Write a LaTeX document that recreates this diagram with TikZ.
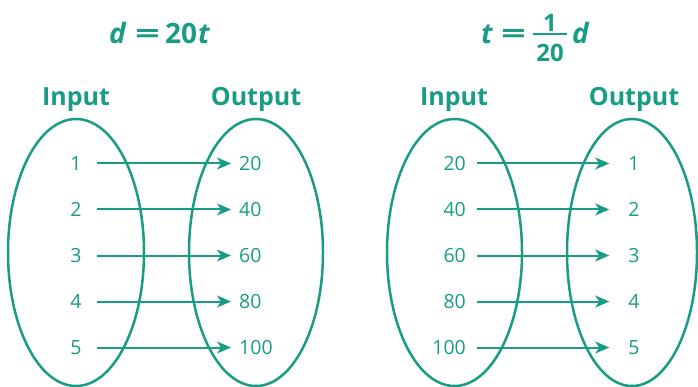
\documentclass[tikz,border=0pt]{standalone}
\usepackage{fontspec}
\setmainfont{Open Sans}
\usetikzlibrary{arrows.meta}
\definecolor{teal}{RGB}{24,157,132}
\newcommand{\wideeq}{\scalebox{1.55}[1]{=}}
\tikzset{
  numtxt/.style={text=teal,inner sep=0pt,font=\fontsize{19.5}{19.5}\selectfont},
  headtxt/.style={text=teal,inner sep=0pt,anchor=base,font=\fontsize{25}{25}\selectfont\bfseries},
  eqtxt/.style={text=teal,inner sep=0pt,anchor=base west,font=\fontsize{28}{28}\selectfont\bfseries},
  fractxt/.style={text=teal,inner sep=0pt,font=\fontsize{24}{24}\selectfont\bfseries},
  setellipse/.style={draw=teal,line width=2.5pt},
  maparrow/.style={draw=teal,line width=2pt,-{Stealth[length=14pt,width=12pt,inset=4pt]}}
}
\begin{document}
\begin{tikzpicture}[x=1pt,y=-1pt]
\useasboundingbox (0,0) rectangle (698,387);
% left equation
\node[eqtxt] (eqLd) at (109,44) {\itshape d};
\node[eqtxt] (eqLeq) at (135,44) {\wideeq};
\node[eqtxt] (eqLn) at (165,44) {20};
\node[eqtxt] (eqLt) at (198,44) {\itshape t};
% right equation
\node[eqtxt] (eqRt) at (481,44) {\itshape t};
\node[eqtxt] (eqReq) at (501,44) {\wideeq};
\node[fractxt] (eqRn) at (550,22.5) {1};
\node[fractxt] (eqRd) at (550,52.5) {20};
\draw[teal,line width=2pt] (533,34.5) -- (567,34.5);
\node[eqtxt] (eqRv) at (572,44) {\itshape d};
% headers
\node[headtxt] (hinL) at (76,106) {Input};
\node[headtxt] (houtL) at (256,106) {Output};
\node[headtxt] (hinR) at (454,106) {Input};
\node[headtxt] (houtR) at (634,106) {Output};
% ellipses
\draw[setellipse] (76,252.5) ellipse [x radius=68,y radius=133.5];
\draw[setellipse] (256,252.5) ellipse [x radius=67,y radius=133.5];
\draw[setellipse] (454.5,252.5) ellipse [x radius=67.5,y radius=133.5];
\draw[setellipse] (632,252.5) ellipse [x radius=65,y radius=133.5];
% left panel
\foreach \i/\a/\b/\y in {1/1/20/163.5,2/2/40/209.5,3/3/60/255.5,4/4/80/301.5,5/5/100/347.5}{
  \node[numtxt] (li\i) at (76,\y) {\a};
  \node[numtxt,anchor=west] (lo\i) at (239,\y) {\b};
  \draw[maparrow,shorten <=15.5pt,shorten >=8pt] (li\i.east) -- (lo\i.west);
}
% right panel
\foreach \i/\a/\b/\y in {1/20/1/163.5,2/40/2/209.5,3/60/3/255.5,4/80/4/301.5,5/100/5/347.5}{
  \node[numtxt,anchor=east] (ri\i) at (466,\y) {\a};
  \node[numtxt] (ro\i) at (634,\y) {\b};
  \draw[maparrow,shorten <=11pt,shorten >=19pt] (ri\i.east) -- (ro\i.west);
}
\end{tikzpicture}
\end{document}
